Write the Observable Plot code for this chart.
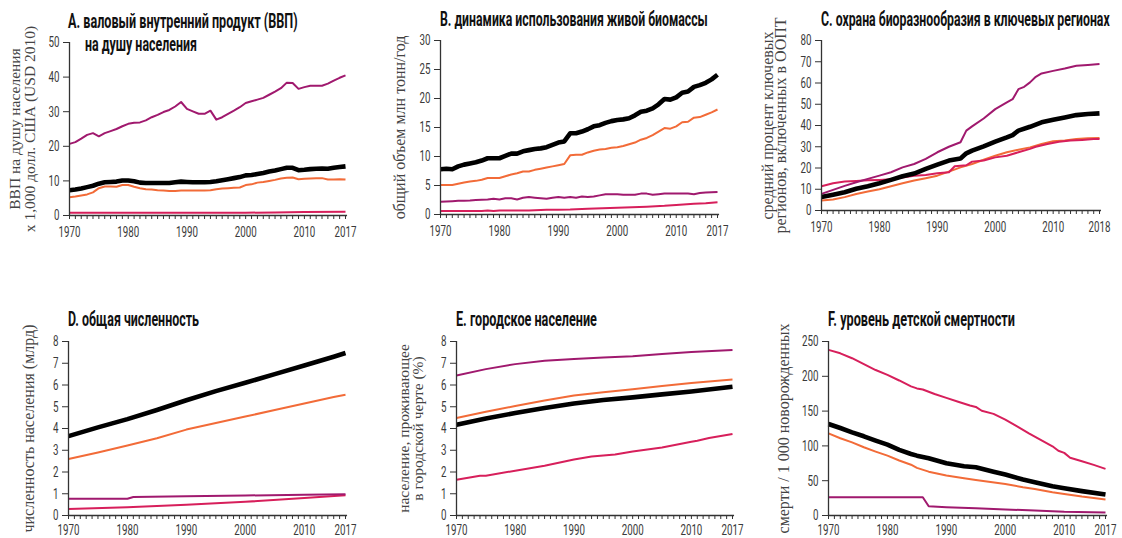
<!DOCTYPE html>
<html><head><meta charset="utf-8">
<script src="https://cdn.jsdelivr.net/npm/d3@7"></script>
<script src="https://cdn.jsdelivr.net/npm/@observablehq/plot@0.6"></script>
<style>
html,body{margin:0;padding:0;background:#fff;}
#wrap{position:relative;width:1122px;height:538px;overflow:hidden;background:#fff;}
.panel{position:absolute;}
#titles{position:absolute;left:0;top:0;pointer-events:none;}
</style></head><body><div id="wrap"></div>
<script>
// ---------- DATA ----------
const yearsAnnual = [1970,1971,1972,1973,1974,1975,1976,1977,1978,1979,1980,1981,1982,1983,1984,1985,1986,1987,1988,1989,1990,1991,1992,1993,1994,1995,1996,1997,1998,1999,2000,2001,2002,2003,2004,2005,2006,2007,2008,2009,2010,2011,2012,2013,2014,2015,2016,2017];

// A. GDP per capita (x1000 USD 2010)
const gdpDeveloped = [20.7,21.2,22.2,23.3,23.8,22.9,23.8,24.4,25.0,25.8,26.5,26.8,26.9,27.5,28.4,29.1,29.9,30.5,31.5,32.8,30.8,30.1,29.4,29.4,30.3,27.7,28.4,29.4,30.3,31.3,32.5,33.0,33.5,34.0,34.9,35.8,36.8,38.4,38.3,36.6,37.1,37.5,37.5,37.5,38.1,39.0,39.8,40.5];
const gdpWorld = [7.3,7.5,7.8,8.2,8.6,9.2,9.6,9.7,9.8,10.1,10.1,9.9,9.5,9.4,9.4,9.4,9.4,9.4,9.6,9.8,9.7,9.6,9.6,9.6,9.7,9.9,10.2,10.5,10.8,11.1,11.6,11.7,12.0,12.3,12.7,13.0,13.4,13.8,13.8,13.1,13.2,13.4,13.5,13.6,13.5,13.8,14.0,14.2];
const gdpDeveloping = [5.3,5.5,5.8,6.1,6.7,7.9,8.4,8.4,8.3,8.8,8.8,8.3,7.9,7.6,7.5,7.3,7.2,7.1,7.1,7.2,7.2,7.2,7.2,7.2,7.3,7.6,7.8,7.9,8.0,8.1,8.8,9.0,9.5,9.7,10.0,10.3,10.7,10.9,11.0,10.5,10.6,10.7,10.8,10.8,10.4,10.4,10.5,10.4];
const gdpLdcYears = [1970,1980,1990,2000,2005,2010,2017];
const gdpLdc = [0.8,0.8,0.8,0.8,0.9,1.0,1.1];

// B. Living biomass use (mln t / year)
const bioWorld = [7.8,7.9,7.8,8.3,8.6,8.8,9.0,9.3,9.7,9.7,9.7,10.1,10.5,10.5,10.9,11.1,11.3,11.4,11.6,12.0,12.4,12.6,14.0,14.0,14.3,14.7,15.2,15.4,15.8,16.1,16.3,16.4,16.6,17.1,17.7,17.9,18.3,19.0,19.9,19.8,20.2,21.0,21.2,22.0,22.3,22.7,23.3,24.1];
const bioDeveloping = [5.1,5.1,5.1,5.3,5.5,5.7,5.8,6.0,6.3,6.3,6.3,6.6,6.9,7.1,7.4,7.4,7.7,7.9,8.1,8.3,8.5,8.7,10.2,10.3,10.3,10.7,11.0,11.2,11.3,11.5,11.6,11.8,12.1,12.4,12.9,13.2,13.7,14.3,14.9,14.8,15.2,15.9,16.0,16.7,16.8,17.2,17.6,18.1];
const bioDeveloped = [2.2,2.25,2.3,2.35,2.35,2.4,2.5,2.55,2.6,2.7,2.6,2.8,2.8,2.6,2.9,3.0,2.9,2.8,2.7,2.9,3.0,2.9,3.0,2.9,3.1,3.0,3.1,3.3,3.5,3.5,3.5,3.4,3.4,3.4,3.6,3.6,3.4,3.5,3.6,3.6,3.6,3.6,3.6,3.5,3.7,3.8,3.85,3.9];
const bioLdcYears = [1970,1975,1977,1978,1979,1980,1985,1988,1990,1992,1995,2000,2005,2008,2010,2013,2015,2017];
const bioLdc = [0.6,0.6,0.6,0.7,0.6,0.7,0.7,0.8,0.8,0.85,1.0,1.15,1.35,1.5,1.65,1.85,1.95,2.1];

// C. Protected key biodiversity areas (%)
const kbaWorldYears = [1970,1972,1974,1976,1978,1980,1982,1984,1986,1988,1990,1992,1994,1995,1996,1998,2000,2002,2003,2004,2006,2008,2010,2012,2014,2016,2018];
const kbaWorld = [6.3,7.4,8.6,10.2,11.4,12.8,14.4,16.1,17.4,19.6,21.6,23.5,24.5,26.9,28.2,30.2,32.4,34.4,35.5,37.6,39.4,41.5,42.7,43.8,44.9,45.4,45.7];
const kbaDevelopedYears = [1970,1972,1974,1976,1978,1980,1982,1984,1986,1988,1990,1992,1994,1995,1996,1998,2000,2002,2003,2004,2005,2006,2007,2008,2010,2012,2014,2016,2018];
const kbaDeveloped = [7.8,9.7,11.6,13.3,14.9,16.4,18.0,20.3,21.9,24.3,27.4,30.0,32.1,37.6,39.6,43.3,47.7,50.9,52.4,57.1,58.2,60.3,62.9,64.5,65.7,66.8,68.1,68.5,68.9];
const kbaLdcYears = [1970,1972,1974,1976,1978,1980,1982,1984,1986,1988,1990,1992,1993,1995,1996,1998,2000,2002,2004,2006,2007,2009,2011,2013,2015,2017,2018];
const kbaLdc = [11.4,12.8,13.6,13.9,14.2,14.4,14.7,15.5,16.3,16.7,17.5,18.0,20.8,21.3,23.0,23.5,25.0,25.8,27.4,29.0,30.0,31.3,32.4,32.9,33.2,33.6,33.6];
const kbaDevelopingYears = [1970,1972,1974,1976,1978,1980,1982,1984,1986,1988,1990,1992,1994,1996,1998,2000,2002,2004,2006,2008,2010,2012,2014,2016,2018];
const kbaDeveloping = [4.7,5.2,6.3,7.8,8.9,10.0,11.4,12.8,14.1,15.2,16.4,18.3,20.3,21.9,23.9,25.8,27.4,28.6,29.7,31.3,32.6,32.9,33.6,34.0,34.1];

// D. Total population (bn)
const popYears = [1970,1975,1980,1985,1990,1995,2000,2005,2010,2015,2017];
const popWorld = [3.65,4.05,4.43,4.85,5.3,5.72,6.1,6.5,6.9,7.3,7.47];
const popDeveloping = [2.6,2.9,3.22,3.55,3.95,4.25,4.55,4.85,5.15,5.45,5.55];
const popDevelopedYears = [1970,1980,1981,1990,2000,2010,2017];
const popDeveloped = [0.77,0.77,0.85,0.89,0.92,0.95,0.98];
const popLdcYears = [1970,1980,1990,2000,2010,2017];
const popLdc = [0.3,0.38,0.49,0.63,0.8,0.93];

// E. Urban population
const urbYears = [1970,1975,1980,1985,1990,1995,2000,2005,2010,2017];
const urbDeveloped = [6.44,6.73,6.96,7.11,7.2,7.26,7.32,7.43,7.52,7.61];
const urbDeveloping = [4.48,4.77,5.03,5.29,5.52,5.67,5.81,5.95,6.09,6.25];
const urbWorld = [4.17,4.46,4.71,4.94,5.15,5.31,5.43,5.57,5.70,5.92];
const urbLdcYears = [1970,1974,1975,1980,1985,1990,1993,1997,2000,2005,2010,2011,2013,2017];
const urbLdc = [1.64,1.83,1.83,2.06,2.29,2.57,2.71,2.80,2.94,3.13,3.39,3.44,3.56,3.75];

// F. Child mortality (deaths / 1000 births)
const mortLdcYears = [1970,1972,1974,1976,1978,1980,1982,1984,1985,1986,1988,1990,1992,1994,1995,1996,1998,2000,2002,2004,2006,2008,2009,2010,2011,2013,2015,2017];
const mortLdc = [238,233,226,217.5,209,202,194,185.5,182.6,181,174.5,169,163.5,158,156,150.5,146,137.7,128,118,108.5,99.4,93,90,83,78,72.7,67];
const mortWorldYears = [1970,1972,1974,1976,1978,1980,1982,1984,1985,1987,1990,1993,1995,1998,2000,2003,2005,2008,2010,2013,2017];
const mortWorld = [131.5,125.7,119.5,113.8,107.6,101.8,94.2,88.4,86,82.2,75,70.7,69.3,63,58.8,51.6,47.8,42,39.2,35,30.1];
const mortDevelopingYears = [1970,1972,1974,1976,1978,1980,1982,1984,1985,1987,1990,1993,1995,2000,2003,2005,2008,2010,2013,2017];
const mortDeveloping = [118,111,105,98,91.8,86,79,73,68.4,63,57.4,53.5,51,45.4,40.6,38.2,33.5,31,27.2,23];
const mortDevelopedYears = [1970,1986,1987,1990,1995,2000,2005,2010,2017];
const mortDeveloped = [26.3,26.3,13.4,12,10.5,8.6,7.2,5.3,4.3];

// Tick values and labels
const yTicksA = [0,10,20,30,40,50];
const yTicksB = [0,5,10,15,20,25,30];
const yTicksC = [0,10,20,30,40,50,60,70,80];
const yTicksD = [0,1,2,3,4,5,6,7,8];
const yTicksE = [0,1,2,3,4,5,6,7,8];
const yTicksF = [0,50,100,150,200,250];
const xLabels2017 = [1970,1980,1990,2000,2010,2017];
const xLabels2018 = [1970,1980,1990,2000,2010,2018];

const titleA1 = "A. валовый внутренний продукт (ВВП)";
const titleA2 = "на душу населения";
const titleB = "B. динамика использования живой биомассы";
const titleC = "C. охрана биоразнообразия в ключевых регионах";
const titleD = "D. общая численность";
const titleE = "E. городское население";
const titleF = "F. уровень детской смертности";

const labelA = "ВВП на душу населения\nх 1,000 долл. США (USD 2010)";
const labelB = "общий объем млн тонн/год";
const labelC = "средний процент ключевых\nрегионов, включенных в ООПТ";
const labelD = "численность населения (млрд)";
const labelE = "население, проживающее\nв городской черте (%)";
const labelF = "смерти / 1 000 новорожденных";

// ---------- STYLE ----------
const C = {world:"#000000", developing:"#f26b38", developed:"#a0196e", ldc:"#d71f5b"};
const W = {world:4.6, other:2};

function rows(years, values){ return years.map((y,i)=>({year:y, value:values[i]})); }

function condense(svg, s){
  svg.querySelectorAll('g[aria-label$="tick label"] text').forEach(t=>{
    let tr = t.getAttribute("transform");
    if (!tr) {
      const x = +(t.getAttribute("x")||0), y = +(t.getAttribute("y")||0);
      t.removeAttribute("x"); t.removeAttribute("y");
      tr = `translate(${x},${y})`;
    }
    t.setAttribute("transform", tr + ` scale(${s},1)`);
  });
}

function makePanel(cfg){
  const [x0, x1] = cfg.xDomain;
  const lines = cfg.series.map(s => Plot.line(rows(s.years, s.values), {
    x:"year", y:"value", stroke:s.color, strokeWidth:s.width,
    strokeLinejoin:"round", strokeLinecap:"butt"
  }));
  const svg = Plot.plot({
    width: cfg.width, height: cfg.height,
    marginLeft: cfg.mL, marginRight: cfg.mR, marginTop: cfg.mT, marginBottom: cfg.mB,
    x: {domain:[x0, x1]},
    y: {domain:cfg.yDomain},
    style: {fontFamily:"Roboto, 'Liberation Sans', sans-serif", fontSize:"15.5px", background:"transparent", overflow:"visible", color:"#333"},
    marks: [
      Plot.axisX({ticks:d3.range(x0, x1+1), tickSize:4, tickFormat:()=>"", label:null, stroke:"#333"}),
      Plot.axisX({ticks:cfg.xLabels, tickSize:0, tickPadding:cfg.xPad, tickFormat:d=>String(d), label:null, fill:"#3a3a3a", fontSize:15.5}),
      Plot.axisY({ticks:cfg.yTicks, tickSize:6, tickPadding:4, tickFormat:d=>String(d), label:null, fill:"#3a3a3a", stroke:"#333", fontSize:15.5}),
      Plot.text([cfg.yLabel], {frameAnchor:"left", rotate:-90, dx:cfg.labelDx, lineHeight:cfg.lineHeight,
        fontFamily:"'Liberation Serif', 'DejaVu Serif', serif", fontSize:cfg.labelSize, fill:"#444",
        textAnchor:"middle", lineAnchor:"middle"}),
      ...lines,
      Plot.ruleY([0], {x1:x0, x2:x1 + 0.35, stroke:"#333", strokeWidth:1.3}),
      Plot.ruleX([x0], {stroke:"#333", strokeWidth:1.3})
    ]
  });
  condense(svg, 0.63);
  const div = document.createElement("div");
  div.className = "panel";
  div.style.left = cfg.left + "px";
  div.style.top = cfg.top + "px";
  div.appendChild(svg);
  document.getElementById("wrap").appendChild(div);
}

const TOPH = 250, BOTH = 238;

makePanel({left:0, top:0, width:374, height:TOPH, mL:69, mR:29, mT:42, mB:TOPH-215, xPad:10,
  xDomain:[1970,2017], yDomain:[0,50], yTicks:yTicksA, xLabels:xLabels2017,
  yLabel:labelA, labelDx:-46.5, lineHeight:0.98, labelSize:15.5,
  series:[
    {years:gdpLdcYears, values:gdpLdc, color:C.ldc, width:W.other},
    {years:yearsAnnual, values:gdpDeveloping, color:C.developing, width:W.other},
    {years:yearsAnnual, values:gdpDeveloped, color:C.developed, width:W.other},
    {years:yearsAnnual, values:gdpWorld, color:C.world, width:W.world}
  ]});

makePanel({left:374, top:0, width:374, height:TOPH, mL:66, mR:31, mT:40, mB:TOPH-214, xPad:10,
  xDomain:[1970,2017], yDomain:[0,30], yTicks:yTicksB, xLabels:xLabels2017,
  yLabel:labelB, labelDx:-41, lineHeight:1, labelSize:16,
  series:[
    {years:bioLdcYears, values:bioLdc, color:C.ldc, width:W.other},
    {years:yearsAnnual, values:bioDeveloped, color:C.developed, width:W.other},
    {years:yearsAnnual, values:bioDeveloping, color:C.developing, width:W.other},
    {years:yearsAnnual, values:bioWorld, color:C.world, width:W.world}
  ]});

makePanel({left:748, top:0, width:374, height:TOPH, mL:73, mR:23, mT:40, mB:TOPH-210, xPad:10,
  xDomain:[1970,2018], yDomain:[0,80], yTicks:yTicksC, xLabels:xLabels2018,
  yLabel:labelC, labelDx:-46.5, lineHeight:0.84, labelSize:16,
  series:[
    {years:kbaDevelopingYears, values:kbaDeveloping, color:C.developing, width:W.other},
    {years:kbaLdcYears, values:kbaLdc, color:C.ldc, width:W.other},
    {years:kbaDevelopedYears, values:kbaDeveloped, color:C.developed, width:W.other},
    {years:kbaWorldYears, values:kbaWorld, color:C.world, width:W.world}
  ]});

makePanel({left:0, top:300, width:374, height:BOTH, mL:68, mR:29, mT:41, mB:23, xPad:8,
  xDomain:[1970,2017], yDomain:[0,8], yTicks:yTicksD, xLabels:xLabels2017,
  yLabel:labelD, labelDx:-40, lineHeight:1, labelSize:16,
  series:[
    {years:popLdcYears, values:popLdc, color:C.ldc, width:W.other},
    {years:popDevelopedYears, values:popDeveloped, color:C.developed, width:W.other},
    {years:popYears, values:popDeveloping, color:C.developing, width:W.other},
    {years:popYears, values:popWorld, color:C.world, width:W.world}
  ]});

makePanel({left:374, top:300, width:374, height:BOTH, mL:82, mR:16, mT:41, mB:23, xPad:8,
  xDomain:[1970,2017], yDomain:[0,8], yTicks:yTicksE, xLabels:xLabels2017,
  yLabel:labelE, labelDx:-45, lineHeight:0.9, labelSize:15.5,
  series:[
    {years:urbLdcYears, values:urbLdc, color:C.ldc, width:W.other},
    {years:urbYears, values:urbDeveloped, color:C.developed, width:W.other},
    {years:urbYears, values:urbDeveloping, color:C.developing, width:W.other},
    {years:urbYears, values:urbWorld, color:C.world, width:W.world}
  ]});

makePanel({left:748, top:300, width:374, height:BOTH, mL:80, mR:17, mT:41, mB:23, xPad:8,
  xDomain:[1970,2017], yDomain:[0,250], yTicks:yTicksF, xLabels:xLabels2017,
  yLabel:labelF, labelDx:-45, lineHeight:1, labelSize:16,
  series:[
    {years:mortDevelopedYears, values:mortDeveloped, color:C.developed, width:W.other},
    {years:mortLdcYears, values:mortLdc, color:C.ldc, width:W.other},
    {years:mortDevelopingYears, values:mortDeveloping, color:C.developing, width:W.other},
    {years:mortWorldYears, values:mortWorld, color:C.world, width:W.world}
  ]});

// ---------- TITLES ----------
const titles = [
  {text:titleA1, x:68, y:28, w:230},
  {text:titleA2, x:85, y:51, w:112},
  {text:titleB, x:440, y:26, w:268},
  {text:titleC, x:821, y:26, w:289},
  {text:titleD, x:68, y:326, w:131},
  {text:titleE, x:456, y:326, w:141},
  {text:titleF, x:828, y:326, w:187}
];
const ts = d3.select("#wrap").append("svg").attr("id","titles").attr("width",1122).attr("height",538);
ts.selectAll("text").data(titles).join("text")
  .attr("font-family","Roboto, 'Liberation Sans', sans-serif")
  .attr("font-weight", 700).attr("font-size", 19.5).attr("fill","#111")
  .text(d=>d.text)
  .each(function(d){
    const natural = this.getComputedTextLength() || d.w;
    const s = d.w / natural;
    d3.select(this).attr("transform", `translate(${d.x},${d.y}) scale(${s},1)`);
  });
</script></body></html>
